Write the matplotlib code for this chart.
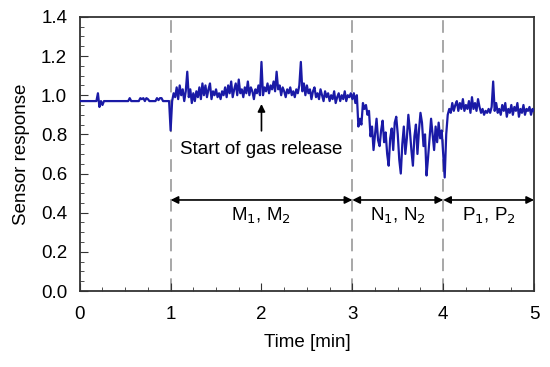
import numpy as np
import matplotlib
matplotlib.use("Agg")
import matplotlib.pyplot as plt
from matplotlib.ticker import MultipleLocator

plt.rcParams['font.family'] = ['Liberation Sans', 'DejaVu Sans']

# sensor response, one reading per second, split per minute
resp_0_1 = [0.97, 0.97, 0.97, 0.97, 0.97, 0.97, 0.97, 0.97, 0.97, 0.97,
            0.97, 0.97, 1.01, 0.94, 0.97, 0.95, 0.97, 0.97, 0.97, 0.97,
            0.97, 0.97, 0.97, 0.97, 0.97, 0.97, 0.97, 0.97, 0.97, 0.97,
            0.97, 0.97, 0.97, 0.985, 0.97, 0.97, 0.97, 0.97, 0.97, 0.97,
            0.985, 0.98, 0.985, 0.97, 0.985, 0.98, 0.97, 0.97, 0.97, 0.97,
            0.97, 0.985, 0.975, 0.985, 0.985, 0.97, 0.97, 0.97, 0.97, 0.97]
resp_1_2 = [0.82, 0.97, 1.01, 0.99, 1.04, 0.98, 1.05, 1.00, 1.03, 0.97,
            1.02, 1.12, 0.99, 1.03, 0.96, 1.01, 0.97, 1.02, 0.99, 1.04,
            0.98, 1.06, 1.00, 1.05, 0.99, 1.03, 1.06, 0.98, 1.02, 1.00,
            1.03, 0.99, 1.01, 0.98, 1.02, 1.00, 1.04, 0.99, 1.05, 1.01,
            1.07, 0.99, 1.03, 1.06, 1.00, 1.08, 1.01, 1.03, 0.99, 1.04,
            1.01, 1.07, 1.00, 1.04, 1.02, 0.98, 1.03, 1.01, 1.05, 1.00]
resp_2_3 = [1.17, 1.00, 1.04, 1.02, 1.06, 1.01, 1.05, 1.03, 1.07, 1.02,
            1.12, 1.03, 1.05, 1.00, 1.04, 1.02, 0.99, 1.03, 1.01, 1.04,
            1.00, 1.02, 0.99, 1.03, 1.01, 1.05, 1.17, 1.02, 1.06, 1.00,
            1.05, 1.01, 1.03, 0.98, 1.02, 1.04, 0.99, 1.01, 0.98, 1.03,
            1.00, 0.97, 1.02, 0.99, 1.01, 0.97, 1.00, 0.98, 1.02, 0.96,
            0.99, 1.01, 0.97, 1.00, 0.98, 1.02, 0.97, 1.00, 0.99, 1.01]
resp_3_4 = [0.98, 1.01, 0.96, 1.00, 0.84, 0.88, 0.85, 0.96, 0.93, 0.95,
            0.90, 0.92, 0.79, 0.84, 0.72, 0.80, 0.88, 0.77, 0.74, 0.82,
            0.87, 0.76, 0.81, 0.70, 0.64, 0.78, 0.83, 0.72, 0.86, 0.89,
            0.80, 0.67, 0.60, 0.75, 0.84, 0.70, 0.78, 0.90, 0.82, 0.72,
            0.64, 0.79, 0.85, 0.70, 0.82, 0.91, 0.86, 0.74, 0.80, 0.59,
            0.68, 0.78, 0.88, 0.80, 0.72, 0.84, 0.76, 0.86, 0.78, 0.82]
resp_4_5 = [0.70, 0.58, 0.80, 0.90, 0.93, 0.91, 0.96, 0.92, 0.95, 0.97,
            0.92, 0.96, 0.93, 0.98, 0.92, 0.95, 0.93, 0.97, 0.91, 0.99,
            0.93, 0.96, 0.92, 0.98, 0.94, 0.91, 0.93, 0.90, 0.92, 0.91,
            0.93, 0.91, 0.94, 1.07, 0.92, 0.96, 0.91, 0.93, 0.90, 0.95,
            0.92, 0.96, 0.89, 0.93, 0.91, 0.95, 0.90, 0.94, 0.92, 0.96,
            0.89, 0.93, 0.91, 0.95, 0.90, 0.93, 0.92, 0.94, 0.90, 0.93,
            0.92]

phase_edges = [1, 3, 4, 5]
phase_labels = ['M$_1$, M$_2$', 'N$_1$, N$_2$', 'P$_1$, P$_2$']

resp = np.array(resp_0_1 + resp_1_2 + resp_2_3 + resp_3_4 + resp_4_5)
t = np.arange(len(resp)) / 60.0

fs = 13.5
fig = plt.figure(figsize=(5.5, 3.67), dpi=100)
ax = fig.add_axes([0.145, 0.207, 0.826, 0.747])

for x in phase_edges[:-1]:
    ax.axvline(x, color='#a0a0a0', ls=(0, (7, 4)), lw=1.3, zorder=1)

ax.plot(t, resp, color='#1a1aa6', lw=1.6, zorder=3)

# double arrows for the phases
arrow_y = 0.465
for i, lab in enumerate(phase_labels):
    x0, x1 = phase_edges[i], phase_edges[i + 1]
    ax.annotate('', xy=(x1, arrow_y), xytext=(x0, arrow_y),
                arrowprops=dict(arrowstyle='<|-|>', color='black', lw=1.2,
                                mutation_scale=11, shrinkA=0, shrinkB=0))
    ax.text((x0 + x1) / 2, 0.385, lab, ha='center', va='center', fontsize=fs)

ax.annotate('Start of gas release', xy=(2.0, 0.955), xytext=(2.0, 0.725),
            ha='center', va='center', fontsize=fs,
            arrowprops=dict(arrowstyle='-|>', color='black', lw=1.2,
                            mutation_scale=11, shrinkA=5, shrinkB=0))

ax.set_xlim(0, 5)
ax.set_ylim(0, 1.4)
ax.xaxis.set_major_locator(MultipleLocator(1))
ax.xaxis.set_minor_locator(MultipleLocator(0.25))
ax.yaxis.set_major_locator(MultipleLocator(0.2))
ax.yaxis.set_minor_locator(MultipleLocator(0.05))
ax.yaxis.set_major_formatter(plt.FormatStrFormatter('%.1f'))
ax.tick_params(which='both', direction='in', labelsize=fs, color='#333333')
ax.tick_params(which='major', length=6)
ax.tick_params(which='minor', length=3)
ax.tick_params(axis='y', which='major', pad=9)
ax.tick_params(axis='x', which='major', pad=11)
for s in ax.spines.values():
    s.set_linewidth(1.3)
    s.set_color('#333333')

ax.set_xlabel('Time [min]', fontsize=fs, labelpad=8)
ax.set_ylabel('Sensor response', fontsize=fs, labelpad=8)

fig.savefig('out.png', dpi=100)
